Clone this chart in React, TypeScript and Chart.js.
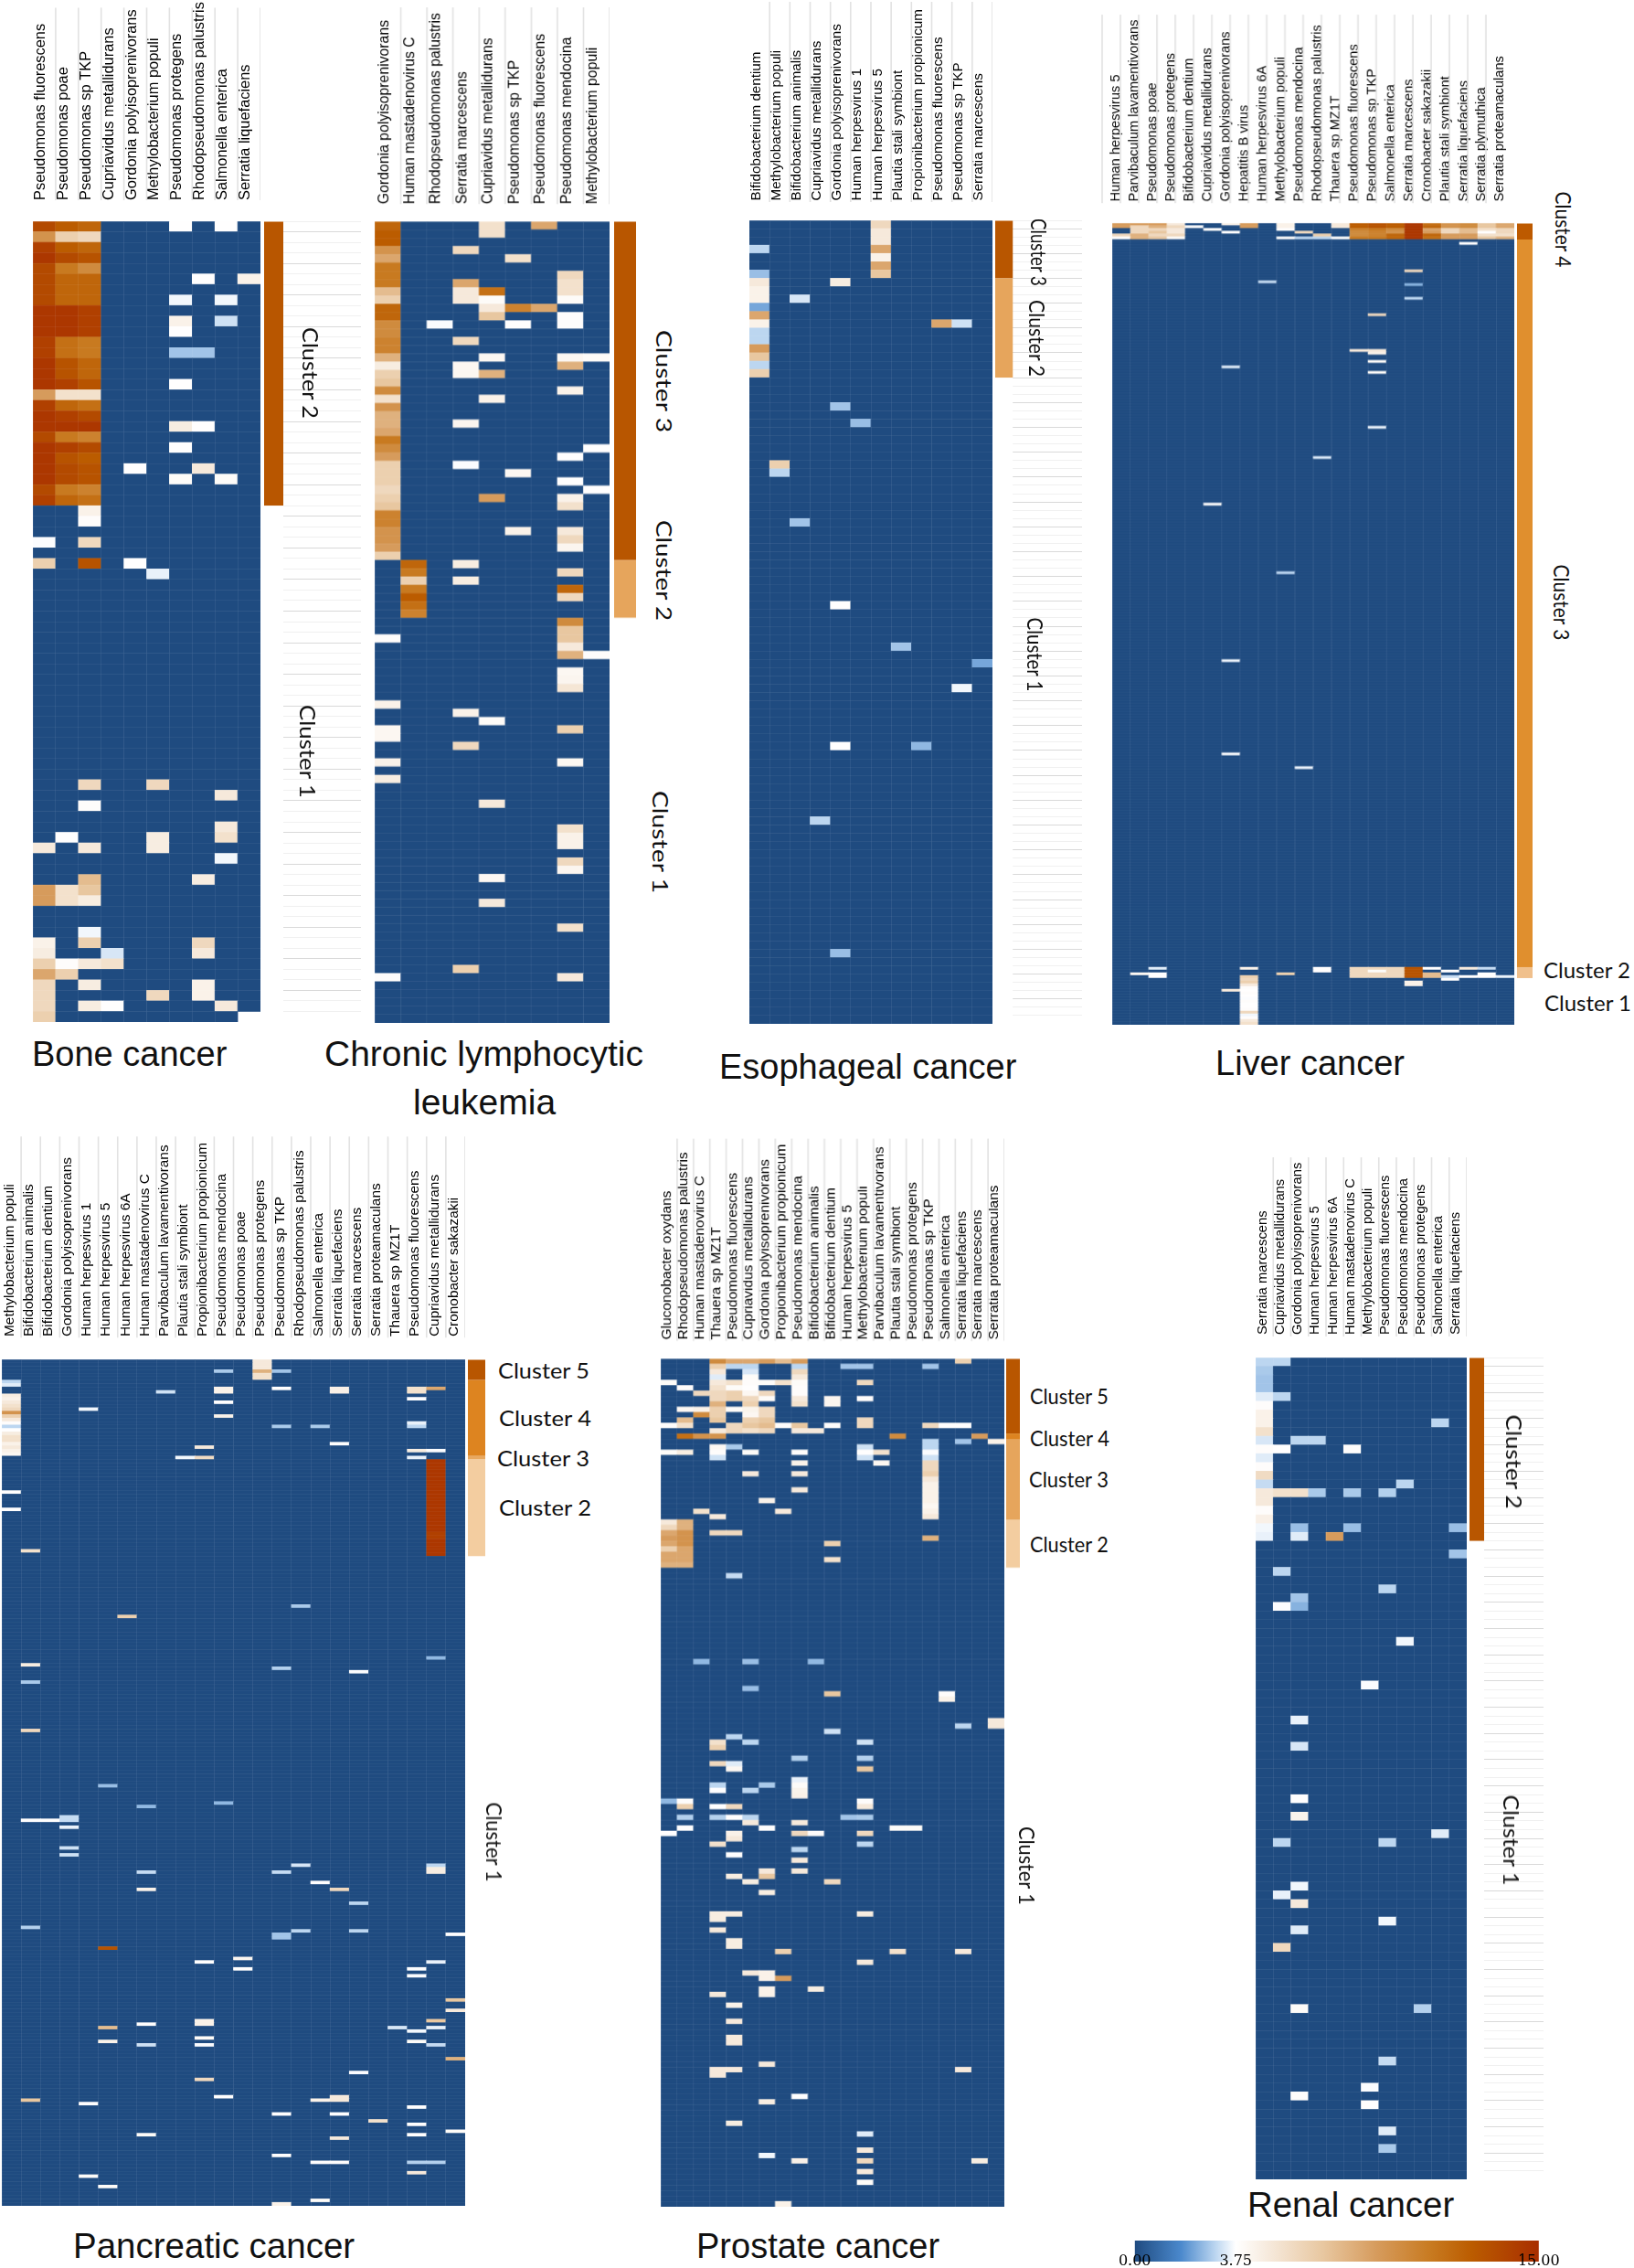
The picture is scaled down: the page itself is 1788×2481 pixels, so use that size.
import React, { useEffect, useRef } from "react";
import { Chart, registerables } from "chart.js";

Chart.register(...registerables);

// ---------- species (columns) ----------
const boneSpecies = ["Pseudomonas fluorescens","Pseudomonas poae","Pseudomonas sp TKP","Cupriavidus metallidurans","Gordonia polyisoprenivorans","Methylobacterium populi","Pseudomonas protegens","Rhodopseudomonas palustris","Salmonella enterica","Serratia liquefaciens"];
const cllSpecies = ["Gordonia polyisoprenivorans","Human mastadenovirus C","Rhodopseudomonas palustris","Serratia marcescens","Cupriavidus metallidurans","Pseudomonas sp TKP","Pseudomonas fluorescens","Pseudomonas mendocina","Methylobacterium populi"];
const esoSpecies = ["Bifidobacterium dentium","Methylobacterium populi","Bifidobacterium animalis","Cupriavidus metallidurans","Gordonia polyisoprenivorans","Human herpesvirus 1","Human herpesvirus 5","Plautia stali symbiont","Propionibacterium propionicum","Pseudomonas fluorescens","Pseudomonas sp TKP","Serratia marcescens"];
const liverSpecies = ["Human herpesvirus 5","Parvibaculum lavamentivorans","Pseudomonas poae","Pseudomonas protegens","Bifidobacterium dentium","Cupriavidus metallidurans","Gordonia polyisoprenivorans","Hepatitis B virus","Human herpesvirus 6A","Methylobacterium populi","Pseudomonas mendocina","Rhodopseudomonas palustris","Thauera sp MZ1T","Pseudomonas fluorescens","Pseudomonas sp TKP","Salmonella enterica","Serratia marcescens","Cronobacter sakazakii","Plautia stali symbiont","Serratia liquefaciens","Serratia plymuthica","Serratia proteamaculans"];
const pancSpecies = ["Methylobacterium populi","Bifidobacterium animalis","Bifidobacterium dentium","Gordonia polyisoprenivorans","Human herpesvirus 1","Human herpesvirus 5","Human herpesvirus 6A","Human mastadenovirus C","Parvibaculum lavamentivorans","Plautia stali symbiont","Propionibacterium propionicum","Pseudomonas mendocina","Pseudomonas poae","Pseudomonas protegens","Pseudomonas sp TKP","Rhodopseudomonas palustris","Salmonella enterica","Serratia liquefaciens","Serratia marcescens","Serratia proteamaculans","Thauera sp MZ1T","Pseudomonas fluorescens","Cupriavidus metallidurans","Cronobacter sakazakii"];
const prosSpecies = ["Gluconobacter oxydans","Rhodopseudomonas palustris","Human mastadenovirus C","Thauera sp MZ1T","Pseudomonas fluorescens","Cupriavidus metallidurans","Gordonia polyisoprenivorans","Propionibacterium propionicum","Pseudomonas mendocina","Bifidobacterium animalis","Bifidobacterium dentium","Human herpesvirus 5","Methylobacterium populi","Parvibaculum lavamentivorans","Plautia stali symbiont","Pseudomonas protegens","Pseudomonas sp TKP","Salmonella enterica","Serratia liquefaciens","Serratia marcescens","Serratia proteamaculans"];
const renalSpecies = ["Serratia marcescens","Cupriavidus metallidurans","Gordonia polyisoprenivorans","Human herpesvirus 5","Human herpesvirus 6A","Human mastadenovirus C","Methylobacterium populi","Pseudomonas fluorescens","Pseudomonas mendocina","Pseudomonas protegens","Salmonella enterica","Serratia liquefaciens"];

// ---------- row counts and cluster breaks (row indices) ----------
const boneBreaks = [0, 27, 76];
const cllBreaks = [0, 41, 48, 97];
const esoBreaks = [0, 7, 19, 97];
const liverBreaks = [0, 6, 271, 275, 292];
const pancBreaks = [0, 6, 28, 29, 57, 245];
const prosBreaks = [0, 14, 15, 30, 39, 158];
const renalBreaks = [0, 21, 94];

// ---------- abundance: contiguous runs [col, firstRow, values] and single cells [row, col, value] ----------
const boneRuns = [
  [0,0,[13.5,9.5,14,14.5,13.5,13.5,13.5,13.5,14.5,14.5,14.5,14,14,14.5,14.5,14.5,9,14,14.5,14.5,13.5,14.5,14.5,14.5,14.5,13.5,14]],
  [1,0,[12.5,6.5,12.5,13.5,11,12,12,12,14.5,14.5,14.5,11.5,11.5,13,13,14,5.5,12,14,14.5,11,14,13,13.5,13.5,11,12]],
  [2,0,[12,6,12,13,10,12,12,12,14,14,14,11,11,12,12,13,5.5,11.5,13.5,14.5,10.5,13.5,12.5,13,13,10.5,11.5]],
];
const boneCells = [[0,6,3.8],[0,8,3.8],[5,7,3.8],[5,9,4.5],[7,6,3.6],[7,8,3.6],[9,6,4.5],[9,8,3.2],[10,6,3.8],[12,6,2.7],[12,7,2.7],[15,6,3.8],[19,6,4.8],[19,7,3.8],[21,6,3.8],[23,4,3.8],[23,7,5],[24,6,4],[24,8,4],[27,2,4.5],[28,2,3.9],[30,0,3.7],[30,2,6],[32,0,6.5],[32,2,13],[32,4,3.8],[33,5,3.5],[53,2,6],[53,5,6],[54,8,5],[55,2,3.9],[57,8,5],[58,8,5.5],[58,1,3.8],[58,5,4.8],[59,0,5],[59,2,5],[59,5,4.8],[60,8,3.6],[62,2,7.5],[62,7,4.8],[63,0,9],[63,1,5.5],[63,2,7],[64,0,9],[64,1,5.5],[64,2,4.8],[67,2,3.6],[68,0,4.5],[68,2,6.5],[68,7,6],[69,0,4.8],[69,3,3.3],[69,7,5],[70,0,6.5],[70,1,3.9],[70,2,5],[70,3,5.5],[71,0,8.5],[71,1,6.5],[72,0,6],[72,2,4.8],[72,7,4.5],[73,0,6],[73,5,6],[73,7,4.5],[74,0,6],[74,2,4.8],[74,3,3.8],[74,8,5],[75,0,6.5]];
const boneBlank = [[75,9]];

const cllRuns = [
  [0,0,[12,12.5,12.5,9.5,8.5,11,11,11,7.5,6.5,12,12,10,10,10.5,10.5,8,4.8,6.5,7,10,5.5,9.5,8,8,8.5,11,10,9,6.5,6.5,6.5,6,6.5,7,10.5,10.5,9.5,9.5,9,6.5]],
  [1,41,[12,11,6.5,11,12.5,11.5,10.5]],
  [7,48,[10,7,7,5,8]],
];
const cllCells = [[0,4,5.5],[1,4,5.5],[0,6,8.5],[3,3,6],[4,5,5.5],[6,7,6],[7,7,5.5],[8,7,5.5],[9,7,4],[7,3,8.5],[8,3,5],[9,3,5],[8,4,11.5],[9,4,4],[10,4,5],[11,4,7],[10,5,10.5],[10,6,8.5],[12,2,3.7],[12,5,3.8],[11,7,3.9],[12,7,3.9],[14,3,6],[16,4,4.2],[16,7,4.2],[16,8,4],[17,3,4.2],[18,3,4.2],[18,4,8],[17,7,8],[20,7,4.5],[21,4,4.5],[24,3,4.3],[27,8,3.8],[28,7,3.8],[29,3,3.7],[30,5,4.2],[31,7,3.8],[32,8,3.8],[33,4,9],[33,7,4.5],[34,7,5.5],[37,5,4.5],[37,7,5],[38,7,6],[39,7,4.3],[41,3,4.8],[42,7,6],[43,3,4.8],[44,7,12],[45,7,6],[50,0,3.9],[52,8,3.9],[54,7,4.2],[55,7,4.3],[56,7,5.2],[58,0,4.5],[59,3,4.5],[60,4,4],[61,0,4.2],[62,0,4.2],[61,7,6.5],[63,3,6],[65,0,4.5],[65,7,4.2],[67,0,4.8],[70,4,5],[73,7,5.5],[74,7,4.5],[75,7,4.5],[77,7,6],[78,7,4.3],[79,4,4.2],[82,4,5],[85,7,5.5],[90,3,6.5],[91,0,3.9],[91,7,5]];

const esoRuns = [
  [6,0,[6,5,5,8.5,4.5,8.5,7]],
  [0,6,[2.6,5,4.5,4.5,2.2,8.5,4.5,3,3,9,7,3,6.5]],
];
const esoCells = [[3,0,3],[7,4,4.8],[9,2,3.3],[12,9,8.5],[12,10,3.2],[22,4,2.7],[24,5,2.6],[29,1,6.5],[30,1,3],[36,2,2.7],[46,4,3.8],[51,7,2.7],[53,11,2.2],[56,10,3.6],[63,4,3.8],[63,8,2.5],[72,3,3],[88,4,2.6]];

const liverRuns = [
  [1,0,[9,6,6,6,8,8]],[2,0,[9,8,6,7,6,7]],[3,0,[5,6,5,5,6,4]],
  [13,0,[12.5,12.5,10.5,10,10,11]],[14,0,[13,13,11,10.5,10.5,11]],[15,0,[12.5,12.5,10,9.5,12,12]],
  [16,0,[14.5,14.5,14.5,14.5,14.5,14.5]],[17,0,[11.5,12,8.5,9,12,11.5]],[18,0,[9.5,9.5,6,6,9,9]],
  [19,0,[10,10,7.5,7.5,9,9]],[20,0,[7,7,5.5,3.8,5.5,7]],[21,0,[8.5,8.5,6,6,5.5,8]],
  [13,271,[6,6,6,6]],[14,271,[6,4,6,6]],[15,271,[6,6,6,6]],[16,271,[13,13,13,13]],
  [7,275,[6,6.5,5,3.9,3.8,3.9,3.8,3.7,3.9,3.8,3.8,3.9,6,3.6,3.9,5,5.5]],
];
const liverCells = [[0,0,9],[1,0,9],[4,0,6],[5,0,3.8],[1,4,3.8],[2,5,3.8],[0,6,4.5],[3,6,3.8],[0,7,9],[1,7,9],[0,9,4.5],[1,9,4.5],[2,9,3.8],[5,9,3.8],[3,10,6],[5,10,3],[4,11,6.5],[5,11,3],[0,12,5],[1,12,5],[5,12,3.8],[7,19,3.8],[17,16,6],[21,8,3.1],[22,16,2.4],[27,16,3],[33,14,6],[46,13,5],[46,14,5],[47,14,4.5],[50,14,4],[52,6,3.4],[54,14,4],[74,14,3.5],[85,11,3.3],[102,5,3.9],[127,9,3],[159,6,3.5],[193,6,3.7],[198,10,3.5],[271,2,3.4],[271,7,4.5],[271,11,3.8],[272,11,3.8],[273,1,4.2],[273,2,3.8],[274,2,3.8],[274,7,6.5],[273,9,6.5],[271,17,3.8],[273,17,7.5],[274,17,7.5],[272,18,3.8],[274,18,3.1],[275,18,3.8],[271,19,5],[274,19,3.8],[271,20,3.1],[273,20,3.8],[274,20,3.8],[274,21,3.5],[276,16,4.5],[277,16,4.5],[279,6,5]];

const pancRuns = [
  [13,0,[5,5,5,8,5.5,5.5]],
  [0,10,[4.8,4.5,5,5.5,6,9.5,6.5,5,3.9,3,3.8,4.8,5.5,5.5,4.5,5,4.5,4.2]],
  [22,29,[14.5,14.5,14.5,14.5,14.5,14.5,14.5,14.5,14.5,14.5,14.5,14.5,14.5,14.5,14.5,14.5,14.5,14.5,14.5,14.5,14.5,14,14,14.5,14.5,14.5,14.5,14.5]],
];
const pancCells = [[3,11,2.8],[3,14,2.7],[6,0,3],[7,0,3.4],[8,14,3.8],[8,11,4.5],[9,11,4.5],[8,17,4.6],[9,17,4.6],[8,21,5.5],[9,21,5.5],[8,22,8.5],[9,8,3.2],[11,21,3.7],[14,4,3.6],[12,11,3.8],[16,11,4.5],[19,14,2.8],[19,16,2.8],[18,21,3.5],[19,21,3],[24,17,3.8],[25,10,5],[26,21,4.8],[26,22,3.7],[28,9,3.6],[28,10,5.8],[28,21,3.5],[38,0,3.8],[43,0,3.8],[55,1,5.5],[71,15,2.8],[74,6,6.5],[86,22,2.5],[88,1,4.8],[89,14,2.9],[90,18,3.7],[93,1,2.8],[107,1,6],[123,5,2.6],[128,11,2.5],[129,7,2.5],[132,3,3.1],[133,3,3.1],[133,1,3.8],[133,2,3.8],[135,3,3.5],[141,3,3.2],[143,3,3.2],[146,15,3.3],[148,7,3.1],[148,14,3.1],[146,22,3],[147,22,4.8],[148,22,4.8],[151,16,3.8],[153,7,4.5],[153,17,6],[157,18,3],[164,1,2.9],[165,15,3],[165,18,3],[166,23,3.8],[166,14,2.7],[167,14,2.7],[170,5,13],[173,12,4.3],[174,10,3.8],[174,22,3.5],[176,12,3.8],[176,21,3.7],[178,21,3.7],[185,23,7],[188,23,5],[191,22,7],[191,10,4.5],[192,10,4.5],[192,7,3.8],[193,5,7.5],[193,20,3.3],[193,22,3.5],[194,21,3.6],[196,10,4],[197,5,4.5],[197,21,4],[198,7,3.2],[198,10,3.7],[198,22,3.1],[202,23,8],[206,18,3.7],[208,10,6],[213,11,3.8],[213,17,5],[214,17,5],[214,16,4.5],[214,1,7],[215,4,3.8],[216,21,3.8],[218,14,3.8],[218,17,3.8],[220,19,5.5],[221,21,3.8],[223,23,4],[224,7,4],[224,21,3.8],[225,17,5],[230,14,3.8],[232,16,3.9],[232,17,3.9],[232,21,2.9],[232,22,2.9],[235,21,5],[236,4,4],[239,5,4],[243,16,4],[244,14,4.5]];

const prosRuns = [
  [3,0,[10,6.5,5,3.4,5,5.5,6,6,8,6.5,6.5,7]],
  [16,15,[3,3,3.7,3.2,6,6,6.5,5,4.5,4.5,4.5,4.5,4.2,4.5,5]],
  [0,30,[5,6,8.5,9,8.5,6.5,8.5,8.5,8]],
  [1,30,[8,8,9.5,9.5,9.5,8.5,8.5,8.5,8]],
];
const prosCells = [[0,4,8.5],[0,5,8.5],[0,6,9],[0,7,7.5],[0,8,9],[0,18,6.5],[1,4,3],[1,5,3],[1,8,3],[1,11,2.7],[1,12,2.7],[1,16,2.7],[2,5,3.3],[2,8,6],[3,5,4],[3,8,5],[4,0,4],[4,4,5.5],[4,5,3.9],[4,6,4],[4,7,5.5],[4,8,4],[4,12,6],[5,1,3.9],[5,4,4],[5,5,3.8],[5,8,3.9],[6,2,6],[6,4,6.5],[6,5,4.2],[6,6,6],[6,8,3.9],[7,4,6.5],[7,5,6],[7,6,4],[7,8,5],[7,10,4.3],[7,12,3.9],[8,5,6.5],[8,8,5.5],[8,10,4.3],[9,1,4.2],[9,2,4.5],[9,4,4],[9,5,4.4],[9,6,6],[10,2,10],[10,5,4.2],[10,6,6],[11,1,7.5],[11,5,6.5],[11,6,7],[11,12,6],[12,0,3.9],[12,1,5.5],[12,4,6],[12,5,7],[12,6,7.5],[12,7,3.9],[12,8,7],[12,10,3.9],[12,12,6],[12,16,6],[12,17,3.8],[12,18,3.8],[13,3,5],[13,4,6],[13,5,5.5],[13,6,6],[13,8,5],[13,9,5],[14,1,11.5],[14,2,9.5],[14,3,9.5],[14,14,10],[14,19,9],[15,18,2.7],[15,20,4.5],[16,3,4.2],[16,4,2.8],[16,12,3.2],[17,0,4],[17,1,4.8],[17,3,3.9],[17,5,4],[17,8,3.9],[17,12,3.8],[17,13,5.5],[18,3,3.2],[18,12,3.2],[19,8,4.5],[19,13,4.2],[21,5,5],[21,8,5],[24,8,5],[26,6,4.5],[28,2,5.5],[28,7,5],[29,3,5],[32,3,6],[32,4,6],[33,16,8],[34,10,6.5],[37,10,5.5],[40,4,3.1],[56,2,2.5],[56,5,2.6],[56,9,2.5],[61,5,2.6],[62,10,7],[62,17,3.9],[63,17,4.5],[67,20,5],[68,20,5],[68,18,3],[69,10,3.2],[70,4,3],[71,5,3],[71,3,5.5],[72,3,6.5],[71,12,3.2],[74,8,2.9],[74,12,2.9],[75,3,6],[75,4,3.4],[76,4,4.2],[76,12,7],[79,6,2.8],[79,3,3],[80,3,3.8],[78,8,3.5],[79,8,4],[80,8,4.4],[81,8,4.5],[80,5,3],[82,0,2.5],[82,1,3.9],[83,1,6.5],[82,12,3.9],[83,12,5],[83,3,3.8],[83,4,6],[85,1,2.9],[85,3,2.9],[85,4,3.8],[85,5,3],[85,11,2.7],[85,12,2.8],[86,5,5],[86,8,5],[87,1,3.8],[87,6,3.8],[87,14,4],[87,15,4],[88,0,3.8],[88,4,4.5],[89,4,5],[88,8,6],[88,9,3.9],[88,12,6],[90,3,5.5],[90,12,3],[91,8,3],[92,4,3.8],[93,8,5],[95,8,5],[95,6,5],[96,6,7],[96,4,4.8],[97,5,4.8],[97,10,6],[99,6,4.8],[103,3,4.8],[104,3,4.8],[103,4,4.8],[103,12,4.8],[106,3,5],[108,4,4.8],[109,4,4.8],[110,7,6.5],[110,14,5.5],[110,18,5],[112,12,5],[114,5,5],[114,6,4.5],[115,6,4.5],[115,7,9],[117,9,4.8],[117,6,4.5],[118,6,4.5],[118,3,5],[120,4,4.5],[123,4,5],[126,4,5],[127,4,5],[131,6,5],[132,4,5],[132,18,5],[132,3,5],[133,3,5],[137,8,3.8],[138,6,4.8],[142,4,4.8],[144,12,3.4],[147,12,5],[148,6,3.6],[149,8,4.6],[149,12,6],[149,19,4.8],[151,12,5],[153,12,4],[157,7,4.5]];

const renalRuns = [
  [0,0,[3,2.8,2.7,2.7,3.4,3.9,4.5,4.5,5.5,3.3,3.9,3.4,3.9,5.8,3.1,5,5,3.9,4.6,3.6,3.5]],
];
const renalCells = [[0,1,3],[4,1,3],[10,1,3.8],[15,1,5.5],[9,2,3],[15,2,5.5],[19,2,2.6],[20,2,3.4],[9,3,3],[15,3,2.8],[20,4,9],[10,5,3.9],[15,5,2.8],[19,5,2.6],[15,7,2.9],[14,8,3],[7,10,3],[19,11,2.6],[22,11,2.7],[24,1,3],[26,7,3],[27,2,2.7],[28,2,2.4],[28,1,3.7],[32,8,3.6],[37,6,3.7],[41,2,3.5],[44,2,3.3],[50,2,3.8],[52,2,4.4],[54,10,3.4],[55,1,3],[55,7,3],[60,2,3.6],[61,1,3.5],[62,2,5],[64,7,3.6],[65,2,3.4],[67,1,6],[74,2,4],[74,9,2.9],[80,7,3.1],[83,6,3.7],[84,2,3.9],[85,6,3.8],[88,7,3.4],[90,7,2.8]];

// ---------- colour scale ----------
const scaleMax = 15;
const scaleTicks = [0, 3.75, 15];
const colorStops: [number, number[]][] = [
  [0, [31, 75, 128]],
  [1.7, [74, 136, 204]],
  [3, [188, 214, 240]],
  [3.75, [255, 255, 255]],
  [5, [246, 233, 219]],
  [7, [232, 199, 160]],
  [9, [214, 155, 92]],
  [11, [200, 122, 32]],
  [12.5, [187, 92, 0]],
  [15, [168, 46, 0]],
];
function colorOf(v: number) {
  let i = 0;
  while (i < colorStops.length - 2 && v > colorStops[i + 1][0]) i++;
  const [a, ca] = colorStops[i];
  const [b, cb] = colorStops[i + 1];
  const t = Math.min(1, Math.max(0, (v - a) / (b - a)));
  const c = ca.map((x, k) => Math.round(x + (cb[k] - x) * t));
  return `rgb(${c[0]},${c[1]},${c[2]})`;
}

const DARK = "#b85600", ORANGE = "#dd8420", MID = "#e6a55c", PALE = "#f3cda0", NONE = "#ffffff";

// ---------- layout of the seven panels ----------
const panels = [
  { id: "bone", species: boneSpecies, breaks: boneBreaks, runs: boneRuns, cells: boneCells, blank: boneBlank,
    colors: [DARK, NONE], left: 35.7, right: 285, top: 242, bottom: 1118, stripL: 288.7, stripR: 310, ruleW: 85, ruleTone: 1,
    font: 16.4, gap: 23, shift: -4, ruleTop: 8.4, ruleBottom: 219, ruleOff: 0, ruleFrom: 1, axis: 242, rowAlpha: 0.05 },
  { id: "cll", species: cllSpecies, breaks: cllBreaks, runs: cllRuns, cells: cllCells, blank: [],
    colors: [DARK, MID, NONE], left: 410, right: 666.7, top: 242, bottom: 1118.5, stripL: 671.7, stripR: 696, ruleW: 0, ruleTone: 0,
    font: 15.8, gap: 19, shift: -4, ruleTop: 8, ruleBottom: 223, ruleOff: 0, ruleFrom: 1, axis: 242, rowAlpha: 0.06 },
  { id: "eso", species: esoSpecies, breaks: esoBreaks, runs: esoRuns, cells: esoCells, blank: [],
    colors: [DARK, MID, NONE], left: 820, right: 1086, top: 241, bottom: 1120, stripL: 1089, stripR: 1108.7, ruleW: 75, ruleTone: 1,
    font: 15.2, gap: 21.5, shift: -3.7, ruleTop: 2, ruleBottom: 221, ruleOff: 0, ruleFrom: 1, axis: 241, rowAlpha: 0.05 },
  { id: "liver", species: liverSpecies, breaks: liverBreaks, runs: liverRuns, cells: liverCells, blank: [],
    colors: ["#bd5a00", "#e08f2e", "#f0c08c", NONE], left: 1216.9, right: 1656.7, top: 243.7, bottom: 1120.7, stripL: 1659.7, stripR: 1677, ruleW: 0, ruleTone: 0,
    font: 14.6, gap: 23.5, shift: -5.6, ruleTop: 16, ruleBottom: 222, ruleOff: -11, ruleFrom: 0, axis: 243.7, rowAlpha: 0.035 },
  { id: "panc", species: pancSpecies, breaks: pancBreaks, runs: pancRuns, cells: pancCells, blank: [],
    colors: [DARK, ORANGE, "#e8a860", PALE, NONE], left: 2, right: 509.3, top: 1486.7, bottom: 2413.5, stripL: 512, stripR: 531, ruleW: 0, ruleTone: 0,
    font: 15.4, gap: 25, shift: -2, ruleTop: 1243, ruleBottom: 1463, ruleOff: 0, ruleFrom: 1, axis: 260, rowAlpha: 0.035 },
  { id: "pros", species: prosSpecies, breaks: prosBreaks, runs: prosRuns, cells: prosCells, blank: [],
    colors: [DARK, ORANGE, MID, PALE, NONE], left: 723.4, right: 1098.8, top: 1486.4, bottom: 2414, stripL: 1100.5, stripR: 1116, ruleW: 0, ruleTone: 0,
    font: 15.5, gap: 20.7, shift: -2, ruleTop: 1246, ruleBottom: 1467, ruleOff: 0, ruleFrom: 1, axis: 260, rowAlpha: 0.04 },
  { id: "renal", species: renalSpecies, breaks: renalBreaks, runs: renalRuns, cells: renalCells, blank: [],
    colors: [DARK, NONE], left: 1374, right: 1605, top: 1485, bottom: 2384, stripL: 1607.7, stripR: 1624, ruleW: 65, ruleTone: 1,
    font: 14.8, gap: 25, shift: -2, ruleTop: 1266, ruleBottom: 1462, ruleOff: 0, ruleFrom: 1, axis: 240, rowAlpha: 0.05 },
];

// ---------- texts ----------
const titles: [string, number, number, number][] = [
  ["Bone cancer", 35, 1153, 38],
  ["Chronic lymphocytic", 355, 1152, 39],
  ["leukemia", 452, 1205, 39],
  ["Esophageal cancer", 787, 1167, 38],
  ["Liver cancer", 1330, 1163, 38],
  ["Pancreatic cancer", 80, 2457, 38.5],
  ["Prostate cancer", 762, 2457, 38],
  ["Renal cancer", 1365, 2412, 38.4],
];
// text, centre x, centre y, length along the text
const rotatedClusters: [string, number, number, number][] = [
  ["Cluster 2", 340, 408, 99],["Cluster 1", 337, 822, 101],
  ["Cluster 3", 727, 417, 111],["Cluster 2", 727, 624, 109],["Cluster 1", 723, 921, 111],
  ["Cluster 3", 1137, 276, 73],["Cluster 2", 1135, 370, 83],["Cluster 1", 1133, 716, 80],
  ["Cluster 4", 1711, 251, 82],["Cluster 3", 1709, 659, 82],
  ["Cluster 1", 541, 2015, 86],["Cluster 1", 1123.5, 2041, 85],
  ["Cluster 2", 1656.6, 1599, 102],["Cluster 1", 1654, 2013, 98],
];
// text, left x, centre y, length
const flatClusters: [string, number, number, number][] = [
  ["Cluster 2", 1689, 1061, 94],["Cluster 1", 1690, 1097, 94],
  ["Cluster 5", 545, 1499, 99],["Cluster 4", 546, 1551, 100],["Cluster 3", 544, 1595, 100],["Cluster 2", 546, 1649, 100],
  ["Cluster 5", 1127, 1527, 85],["Cluster 4", 1127, 1573, 86],["Cluster 3", 1126, 1617.5, 86],["Cluster 2", 1127, 1689, 85],
];

function buildCells(p: any) {
  const rows = p.breaks[p.breaks.length - 1];
  const cols = p.species.length;
  const values = new Map<string, number>();
  for (const [c, r0, vals] of p.runs) (vals as number[]).forEach((v, i) => values.set(`${r0 + i}:${c}`, v));
  for (const [r, c, v] of p.cells) values.set(`${r}:${c}`, v);
  for (const [r, c] of p.blank) values.set(`${r}:${c}`, -1);
  const data: any[] = [];
  for (let r = 0; r < rows; r++)
    for (let c = 0; c < cols; c++) {
      const v = values.get(`${r}:${c}`) ?? 0;
      if (v >= 0) data.push({ x: p.species[c], y: [r, r + 1], v });
    }
  return { rows, data };
}

const PAD = 15;

function HeatPanel({ p }: { p: any }) {
  const heat = useRef<HTMLCanvasElement>(null);
  const strip = useRef<HTMLCanvasElement>(null);
  useEffect(() => {
    const { rows, data } = buildCells(p);
    const headerRules = {
      id: "headerRules",
      afterDraw(chart: any) {
        const { ctx, scales } = chart;
        const canvasTop = p.top - p.axis;
        ctx.save();
        ctx.strokeStyle = "#e2e2e2";
        ctx.lineWidth = 1.6;
        const last = p.ruleFrom === 0 ? p.species.length - 1 : p.species.length;
        for (let i = p.ruleFrom; i <= last; i++) {
          const x = scales.x.getPixelForValue(i - 0.5) + p.ruleOff;
          ctx.beginPath();
          ctx.moveTo(x, p.ruleTop - canvasTop);
          ctx.lineTo(x, p.ruleBottom - canvasTop);
          ctx.stroke();
        }
        ctx.restore();
      },
    };
    const c1 = new Chart(heat.current!, {
      type: "bar",
      data: {
        labels: p.species,
        datasets: [{
          data,
          backgroundColor: data.map((d) => colorOf(d.v)),
          barPercentage: 1,
          categoryPercentage: 1,
          grouped: false,
          borderWidth: 0,
        }],
      } as any,
      plugins: [headerRules],
      options: {
        responsive: false,
        animation: false,
        events: [],
        layout: { padding: { left: PAD, right: 0, top: 0, bottom: 0 } },
        plugins: { legend: { display: false }, tooltip: { enabled: false } },
        scales: {
          x: {
            type: "category",
            position: "top",
            afterFit(s: any) { s.height = p.axis; s.paddingLeft = 0; s.paddingRight = 0; },
            border: { display: false },
            grid: { color: "rgba(255,255,255,0.07)", drawTicks: false, z: 1 },
            ticks: {
              autoSkip: false, minRotation: 90, maxRotation: 90, padding: p.gap, labelOffset: p.shift + p.font * 1.2,
              color: "#000", font: { family: "'Liberation Sans', Arial, sans-serif", size: p.font },
            },
          },
          y: {
            type: "linear", reverse: true, min: 0, max: rows,
            afterFit(s: any) { s.width = 0; },
            border: { display: false },
            grid: { color: `rgba(255,255,255,${p.rowAlpha})`, drawTicks: false, z: 1 },
            ticks: { display: false, stepSize: 1, autoSkip: false },
          },
        },
      } as any,
    });
    const segs = p.colors.map((_: string, i: number) => ({ x: "Cluster", y: [p.breaks[i], p.breaks[i + 1]] }));
    const c2 = new Chart(strip.current!, {
      type: "bar",
      data: {
        labels: ["Cluster"],
        datasets: [{ data: segs, backgroundColor: p.colors, barPercentage: 1, categoryPercentage: 1, grouped: false, borderWidth: 0, inflateAmount: 0 }],
      } as any,
      options: {
        responsive: false,
        animation: false,
        events: [],
        layout: { padding: 0 },
        plugins: { legend: { display: false }, tooltip: { enabled: false } },
        scales: {
          x: { type: "category", display: false },
          y: {
            type: "linear", reverse: true, min: 0, max: rows, position: "right",
            border: { display: false },
            afterFit(s: any) { s.width = p.ruleW; },
            grid: {
              drawOnChartArea: false,
              drawTicks: p.ruleW > 0,
              tickLength: p.ruleW,
              tickWidth: 1.2,
              tickColor: (ctx: any) => (ctx.index % 3 === 0 ? "#d9d9d9" : "#f0f0f0"),
            },
            ticks: { display: false, stepSize: 1, autoSkip: false },
          },
        },
      } as any,
    });
    return () => { c1.destroy(); c2.destroy(); };
  }, [p]);
  const w = p.right - p.left + PAD;
  const h = p.axis + (p.bottom - p.top);
  const stripW = p.stripR - p.stripL + p.ruleW;
  return (
    <>
      <canvas ref={heat} width={w} height={h} style={{ position: "absolute", left: p.left - PAD, top: p.top - p.axis, width: w, height: h }} />
      <canvas ref={strip} width={stripW} height={p.bottom - p.top} style={{ position: "absolute", left: p.stripL, top: p.top, width: stripW, height: p.bottom - p.top }} />
    </>
  );
}

function ColorBar() {
  const ref = useRef<HTMLCanvasElement>(null);
  useEffect(() => {
    const chart = new Chart(ref.current!, {
      type: "bar",
      data: {
        labels: ["scale"],
        datasets: [{
          data: [{ y: "scale", x: [0, scaleMax] }],
          barPercentage: 1, categoryPercentage: 1, borderWidth: 0,
          backgroundColor: (ctx: any) => {
            const area = ctx.chart.chartArea;
            if (!area) return colorOf(0);
            const g = ctx.chart.ctx.createLinearGradient(area.left, 0, area.right, 0);
            for (const [v] of colorStops) g.addColorStop(v / scaleMax, colorOf(v));
            return g;
          },
        }],
      } as any,
      options: {
        indexAxis: "y",
        responsive: false,
        animation: false,
        events: [],
        layout: { padding: { left: 27.7, right: 44.2, top: 0, bottom: 0 } },
        plugins: { legend: { display: false }, tooltip: { enabled: false } },
        scales: {
          y: { type: "category", display: false },
          x: {
            type: "linear", min: 0, max: scaleMax,
            border: { display: false },
            grid: { display: false },
            afterBuildTicks(s: any) { s.ticks = scaleTicks.map((value) => ({ value })); },
            afterFit(s: any) { s.height = 7; s.paddingLeft = 0; s.paddingRight = 0; },
            ticks: {
              z: 1, mirror: true, padding: -9, maxRotation: 0, autoSkip: false, color: "#000",
              font: { family: "'DejaVu Serif', serif", size: 16 },
              callback: (v: number) => v.toFixed(2),
            },
          },
        },
      } as any,
    });
    return () => chart.destroy();
  }, []);
  return <canvas ref={ref} width={514} height={30} style={{ position: "absolute", left: 1214, top: 2451, width: 514, height: 30 }} />;
}

const clusterFont = "Lato, 'Open Sans', sans-serif";
const clusterBase = 94; // length of "Cluster N" at 24px

export default function App() {
  return (
    <div style={{ position: "absolute", left: 0, top: 0, width: 1788, height: 2481, background: "#fff", overflow: "hidden", filter: "blur(0.45px)" }}>
      {panels.map((p) => <HeatPanel key={p.id} p={p} />)}
      <ColorBar />
      {titles.map(([t, x, y, s]) => (
        <div key={t} style={{ position: "absolute", left: x, top: y, transform: "translateY(-50%)", whiteSpace: "nowrap", fontFamily: "'Liberation Sans', Arial, sans-serif", fontSize: s, color: "#111", lineHeight: 1 }}>{t}</div>
      ))}
      {rotatedClusters.map(([t, x, y, len], i) => (
        <div key={`r${i}`} style={{ position: "absolute", left: x, top: y, transform: `translate(-50%,-50%) rotate(90deg) scaleX(${len / clusterBase})`, whiteSpace: "nowrap", fontFamily: clusterFont, fontSize: 24, color: "#111", lineHeight: 1 }}>{t}</div>
      ))}
      {flatClusters.map(([t, x, y, len], i) => (
        <div key={`f${i}`} style={{ position: "absolute", left: x, top: y, transform: `translateY(-50%) scaleX(${len / clusterBase})`, transformOrigin: "left center", whiteSpace: "nowrap", fontFamily: clusterFont, fontSize: 24, color: "#111", lineHeight: 1 }}>{t}</div>
      ))}
    </div>
  );
}
